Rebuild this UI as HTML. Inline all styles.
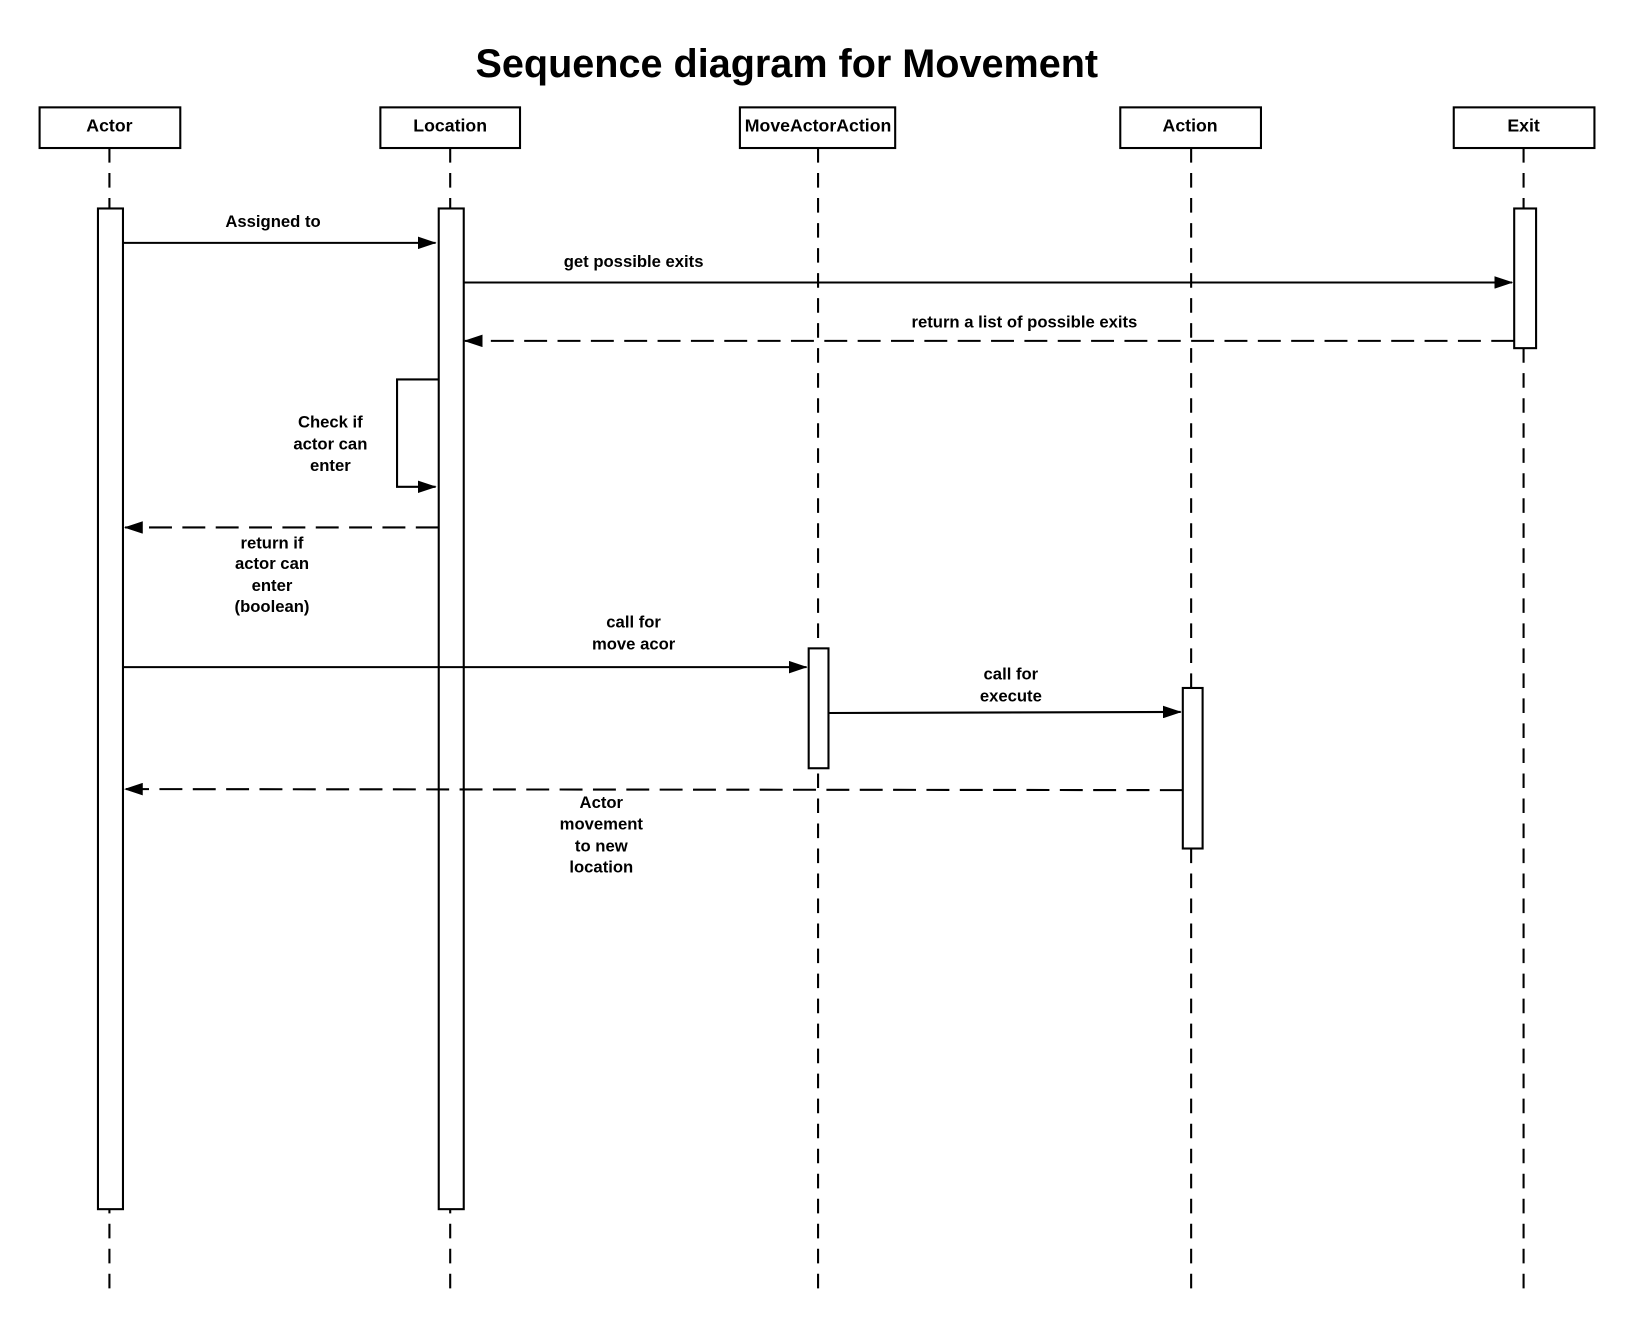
<!DOCTYPE html>
<html><head><meta charset="utf-8"><style>
html,body{margin:0;padding:0;background:#fff;}
svg{display:block;}
text{font-family:"Liberation Sans",Arial,sans-serif;font-weight:bold;fill:#000;}
</style></head><body>
<svg width="1633" height="1328" viewBox="0 0 1567 1274" preserveAspectRatio="none" xmlns="http://www.w3.org/2000/svg">
<defs>
<marker id="a" markerWidth="18" markerHeight="12" refX="17" refY="6" orient="auto" markerUnits="userSpaceOnUse">
<path d="M0,0 L18,6 L0,12 Z" fill="#000"/></marker>
</defs>
<text x="755" y="74" font-size="38" text-anchor="middle">Sequence diagram for Movement</text>
<g stroke="#000" stroke-width="2" fill="#fff">
<g stroke-dasharray="14,10">
<line x1="105" y1="142" x2="105" y2="1236"/>
<line x1="432" y1="142" x2="432" y2="1236"/>
<line x1="785" y1="142" x2="785" y2="1236"/>
<line x1="1143" y1="142" x2="1143" y2="1236"/>
<line x1="1462" y1="142" x2="1462" y2="1236"/>
</g>
<rect x="38" y="103" width="135" height="39"/>
<rect x="365" y="103" width="134" height="39"/>
<rect x="710" y="103" width="149" height="39"/>
<rect x="1075" y="103" width="135" height="39"/>
<rect x="1395" y="103" width="135" height="39"/>
<rect x="94" y="200" width="24" height="960"/>
<rect x="421" y="200" width="24" height="960"/>
<rect x="776" y="622" width="19" height="115"/>
<rect x="1135" y="660" width="19" height="154"/>
<rect x="1453" y="200" width="21" height="134"/>
<g fill="none">
<line x1="118" y1="233" x2="418" y2="233" marker-end="url(#a)"/>
<line x1="445" y1="271" x2="1451" y2="271" marker-end="url(#a)"/>
<line x1="1453" y1="327" x2="446" y2="327" stroke-dasharray="22,10" marker-end="url(#a)"/>
<polyline points="421,364 381,364 381,467 418,467" marker-end="url(#a)"/>
<line x1="421" y1="506" x2="120" y2="506" stroke-dasharray="22,10" marker-end="url(#a)"/>
<line x1="118" y1="640" x2="774" y2="640" marker-end="url(#a)"/>
<line x1="795" y1="684" x2="1133" y2="683" marker-end="url(#a)"/>
<line x1="1135" y1="758" x2="120" y2="757" stroke-dasharray="22,10" marker-end="url(#a)"/>
</g>
</g>
<g font-size="17" text-anchor="middle">
<text x="105" y="126">Actor</text>
<text x="432" y="126">Location</text>
<text x="785" y="126">MoveActorAction</text>
<text x="1142" y="126">Action</text>
<text x="1462" y="126">Exit</text>
</g>
<g font-size="16" text-anchor="middle">
<text x="262" y="218">Assigned to</text>
<text x="608" y="256">get possible exits</text>
<text x="983" y="314">return a list of possible exits</text>
<text x="317" y="410">Check if</text><text x="317" y="431">actor can</text><text x="317" y="452">enter</text>
<text x="261" y="526">return if</text><text x="261" y="546">actor can</text><text x="261" y="567">enter</text><text x="261" y="587">(boolean)</text>
<text x="608" y="602">call for</text><text x="608" y="623">move acor</text>
<text x="970" y="652">call for</text><text x="970" y="673">execute</text>
<text x="577" y="775">Actor</text><text x="577" y="796">movement</text><text x="577" y="817">to new</text><text x="577" y="837">location</text>
</g>
</svg>
</body></html>
